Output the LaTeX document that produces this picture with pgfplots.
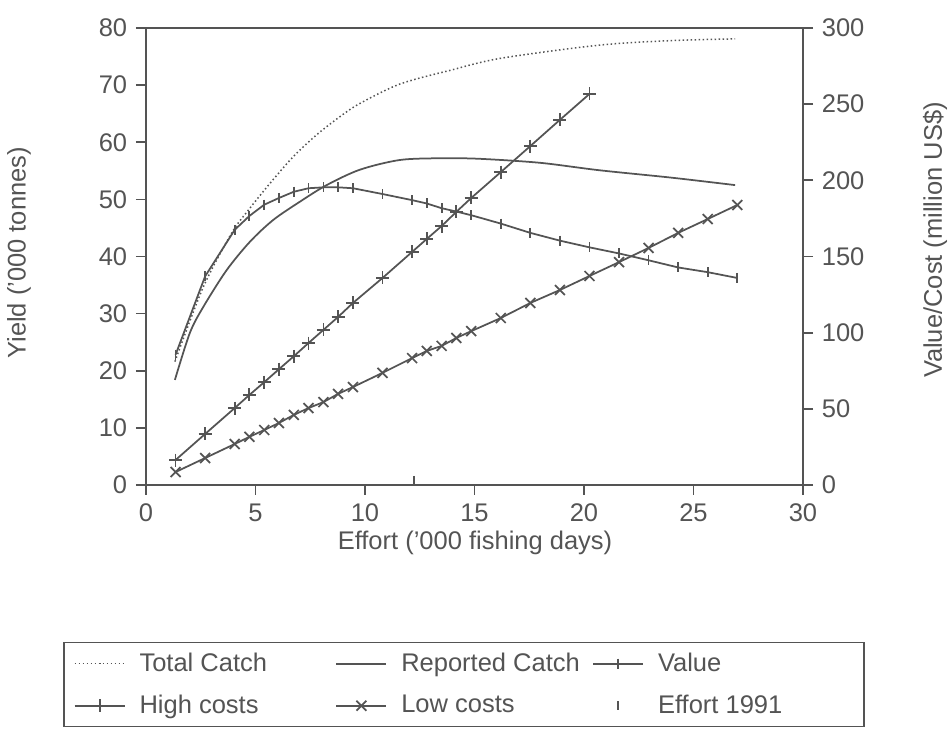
\documentclass[border=0pt]{standalone}
\usepackage{fontspec}
\setmainfont{Liberation Sans}
\usepackage{pgfplots}
\pgfplotsset{compat=1.18}
\definecolor{ink}{gray}{0.33}
\newcommand\fs{\fontsize{10.2}{12.2}\selectfont}
\newcommand\lent[2][84pt]{\makebox[#1][l]{\hspace{5.6pt}#2}}
\begin{document}
\begin{tikzpicture}
\path[use as bounding box] (-58.4pt,-99.2pt) rectangle (321.2pt,194pt);
\begin{axis}[
 at={(0,0)}, anchor=south west,
 scale only axis, width=262.8pt, height=182.8pt,
 xmin=0,xmax=30,ymin=0,ymax=80,
 xtick={0,5,...,30}, ytick={0,10,...,80},
 xtick pos=bottom, ytick pos=left, tick align=outside,
 major tick length=4pt,
 axis line style={ink, line width=0.7pt},
 every tick/.style={ink, line width=0.7pt},
 tick label style={font=\fs, text=ink},
 label style={font=\fs, text=ink},
 /pgf/number format/assume math mode=true,
 xlabel={Effort ('000 fishing days)},
 ylabel={Yield ('000 tonnes)},
 xlabel style={at={(axis description cs:0.5008,-0.127)}, anchor=center},
 ylabel style={at={(axis description cs:-0.1933,0.508)}, anchor=center},
]
\addplot[ink, densely dotted, line width=0.6pt, smooth] coordinates {
(1.32,21.6) (2.62,34.7) (3.91,44.1) (4.67,48.1) (5.66,52.8) (6.73,57.5) (7.79,61.3) (8.86,64.5) (9.77,66.8) (11.6,70.2) (13.9,72.6) (16.2,74.7) (20.7,77.0) (24,77.8) (26.9,78.1)};
\addplot[ink, line width=0.7pt, smooth] coordinates {
(1.32,18.4) (2.0,26.6) (2.62,31.2) (3.68,37.6) (4.75,42.6) (5.81,46.4) (7.03,49.6) (8.25,52.5) (9.77,55.2) (11.6,56.9) (13.5,57.2) (15.25,57.1) (18,56.4) (20.7,55.1) (24,53.8) (26.9,52.5)};
\end{axis}
\begin{axis}[
 at={(0,0)}, anchor=south west,
 scale only axis, width=262.8pt, height=182.8pt,
 xmin=0,xmax=30,ymin=0,ymax=300,
 axis x line=none, axis y line*=right,
 ytick={0,50,...,300}, tick align=outside,
 major tick length=4pt,
 axis line style={ink, line width=0.7pt},
 every tick/.style={ink, line width=0.7pt},
 tick label style={font=\fs, text=ink},
 label style={font=\fs, text=ink},
 /pgf/number format/assume math mode=true,
 ylabel={Value/Cost (million US\$)},
 ylabel style={at={(axis description cs:1.201,0.536)}, anchor=center},
 clip=false,
 legend columns=3, legend cell align=left,
 legend image code/.code={\draw[mark repeat=2,mark phase=2,#1] plot coordinates {(0pt,0pt) (10pt,0pt) (20pt,0pt)};},
 legend style={at={(-0.1263,-0.3435)}, anchor=north west, draw=ink, line width=0.6pt,
   inner xsep=4pt, inner ysep=0pt, column sep=0pt, row sep=0pt,
   nodes={inner sep=0pt, minimum height=16.8pt, font=\fs, text=ink}},
]
\addlegendimage{ink, densely dotted, line width=0.6pt}
\addlegendentry{\lent{Total Catch}}
\addlegendimage{ink, line width=0.7pt}
\addlegendentry{\lent[82pt]{Reported Catch}}
\addplot[ink, line width=0.7pt, mark=|, mark size=2pt] coordinates {
(1.35,85.5) (2.7,137) (4.05,167.5) (4.72,176.6) (5.4,184) (6.07,188.4) (6.75,192.5) (7.42,194.8) (8.1,195.4) (8.77,195.4) (9.45,194.8) (10.8,191.0) (12.15,187.0) (12.82,184.8) (13.5,181.7) (14.17,179.5) (14.85,177.1) (16.2,171.6) (17.55,165.5) (18.9,160.4) (20.25,156.0) (21.6,152) (22.95,147.5) (24.3,142.8) (25.65,139.7) (27.0,135.9)};
\addlegendentry{\lent{Value}}
\addplot[ink, line width=0.7pt, mark=+, mark size=2.6pt] coordinates {
(1.35,16.4) (2.7,33.5) (4.05,50.5) (4.72,59.1) (5.4,67.5) (6.07,76) (6.75,84.5) (7.42,93.2) (8.1,101.8) (8.77,110.3) (9.45,119.5) (10.8,135.9) (12.15,153) (12.82,161.5) (13.5,170.0) (14.17,179.3) (14.85,188.4) (16.2,205.4) (17.55,222.5) (18.9,239.7) (20.25,256.7)};
\addlegendentry{\lent{High costs}}
\addplot[ink, line width=0.7pt, mark=x, mark size=2.8pt] coordinates {
(1.35,8.5) (2.7,17.7) (4.05,26.9) (4.72,31.6) (5.4,36.1) (6.07,40.7) (6.75,46.0) (7.42,50.5) (8.1,54.4) (8.77,59.8) (9.45,64.3) (10.8,73.6) (12.15,83.3) (12.82,88.0) (13.5,91.3) (14.17,96.5) (14.85,101.0) (16.2,109.6) (17.55,119.5) (18.9,128.0) (20.25,137.2) (21.6,146.3) (22.95,155.6) (24.3,165.5) (25.65,174.6) (27.0,183.8)};
\addlegendentry{\lent[82pt]{Low costs}}
\addplot[ink, line width=0.7pt, only marks, mark=|, mark size=1.8pt,
  mark options={draw opacity=1}, legend image post style={draw opacity=0}] coordinates {(12.25,3)};
\addlegendentry{\lent{Effort 1991}}
\end{axis}
\end{tikzpicture}
\end{document}
